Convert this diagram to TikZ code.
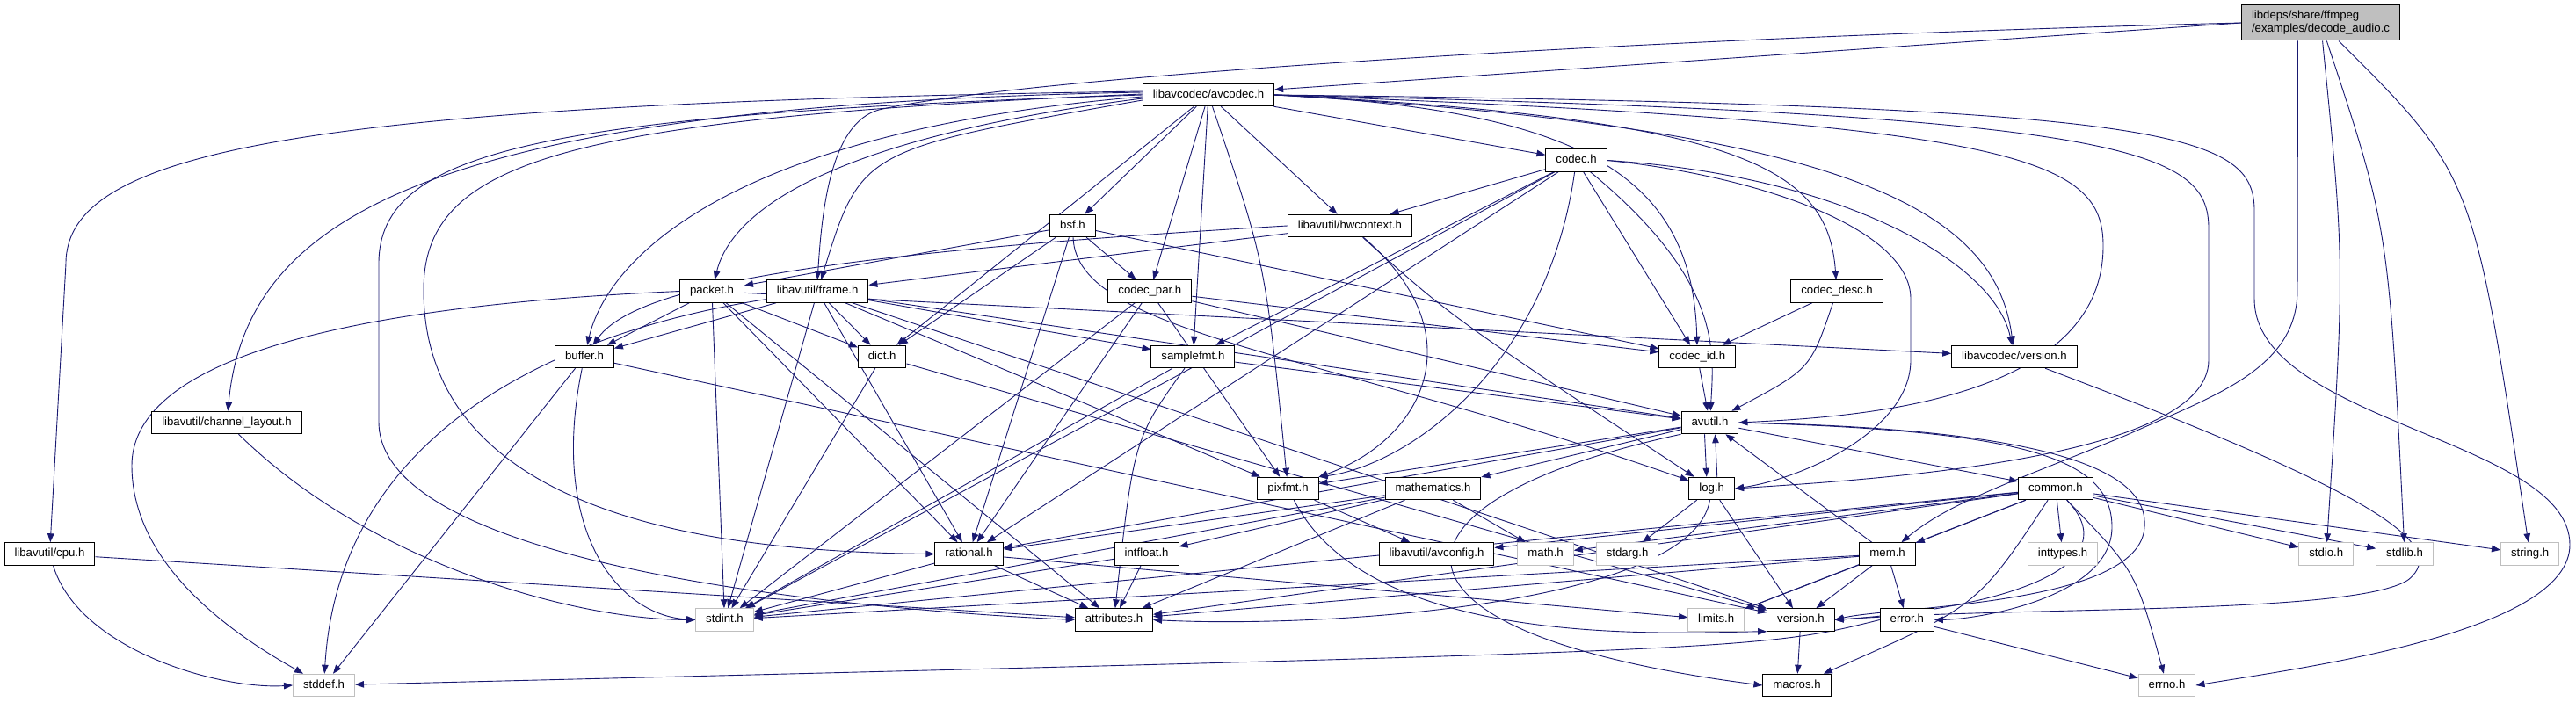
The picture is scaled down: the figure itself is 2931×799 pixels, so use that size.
\documentclass[tikz,border=0pt]{standalone}
\usepackage{fontspec}
\setmainfont{Liberation Sans}
\usetikzlibrary{arrows.meta,positioning,backgrounds}
\definecolor{linkblue}{HTML}{191970}
\definecolor{sysgrey}{HTML}{BFBFBF}

\begin{document}
\begin{tikzpicture}[
  x=1pt, y=-1pt,
  font=\fontsize{13.2}{15}\selectfont,
  hdr/.style={
    rectangle,
    draw=black,
    fill=white,
    line width=1pt,
    inner xsep=11.5pt,
    inner ysep=2pt,
    minimum height=25.5pt,
    text height=9.5pt,
    text depth=2.7pt
  },
  sys/.style={hdr, draw=sysgrey},
  rootfile/.style={
    rectangle,
    draw=black,
    fill=sysgrey,
    line width=1pt,
    inner xsep=11.5pt,
    align=left,
    minimum height=40pt
  },
  inc/.style={
    draw=linkblue,
    line width=0.9pt,
    -{Stealth[length=10pt,width=7.5pt,inset=0pt]}
  }
]
\useasboundingbox (0,0) rectangle (2931,799);

\node[rootfile] (root) at (2640.5,26) {libdeps/share/ffmpeg\\/examples/decode\_audio.c};
\node[hdr] (avcodec) at (1375,108) {libavcodec/avcodec.h};
\node[hdr] (codec) at (1793.5,182.5) {codec.h};
\node[hdr] (bsf) at (1220.5,257) {bsf.h};
\node[hdr, right=218pt of bsf] (hwcontext) {libavutil/hwcontext.h};
\node[hdr] (packet) at (810,331.5) {packet.h};
\node[hdr, right=25pt of packet] (frame) {libavutil/frame.h};
\node[hdr, right=272pt of frame] (codecpar) {codec\_par.h};
\node[hdr, right=681pt of codecpar] (codecdesc) {codec\_desc.h};
\node[hdr] (buffer) at (665,406) {buffer.h};
\node[hdr, right=277pt of buffer] (dict) {dict.h};
\node[hdr, right=278pt of dict] (samplefmt) {samplefmt.h};
\node[hdr, right=482pt of samplefmt] (codecid) {codec\_id.h};
\node[hdr, right=245pt of codecid] (lavcversion) {libavcodec/version.h};
\node[hdr] (chlayout) at (258,481) {libavutil/channel\_layout.h};
\node[hdr] (avutil) at (1945.5,481) {avutil.h};
\node[hdr] (pixfmt) at (1465.5,556) {pixfmt.h};
\node[hdr, right=75pt of pixfmt] (mathematics) {mathematics.h};
\node[hdr, right=236pt of mathematics] (log) {log.h};
\node[hdr, right=322pt of log] (common) {common.h};
\node[hdr] (cpu) at (56.5,630.5) {libavutil/cpu.h};
\node[hdr] (rational) at (1102.5,630.5) {rational.h};
\node[hdr, right=126pt of rational] (intfloat) {intfloat.h};
\node[hdr, right=227pt of intfloat] (avconfig) {libavutil/avconfig.h};
\node[sys, right=26pt of avconfig] (math) {math.h};
\node[sys, right=25pt of math] (stdarg) {stdarg.h};
\node[hdr, right=228pt of stdarg] (mem) {mem.h};
\node[sys, right=127pt of mem] (inttypes) {inttypes.h};
\node[sys, right=228pt of inttypes] (stdio) {stdio.h};
\node[sys, right=25pt of stdio] (stdlib) {stdlib.h};
\node[sys, right=76pt of stdlib] (string) {string.h};
\node[sys] (stdint) at (824.5,705.5) {stdint.h};
\node[hdr, right=365pt of stdint] (attributes) {attributes.h};
\node[sys, right=608pt of attributes] (limits) {limits.h};
\node[hdr, right=25pt of limits] (version) {version.h};
\node[hdr, right=51pt of version] (error) {error.h};
\node[sys] (stddef) at (368.5,780) {stddef.h};
\node[hdr] (macros) at (2044.5,780) {macros.h};
\node[sys, right=349pt of macros] (errno) {errno.h};

\begin{scope}[on background layer]
% decode_audio.c
\draw[inc] (root.west) -- ([yshift=6pt]avcodec.east);
\draw[inc] (root.west) .. controls (1800,45) and (1150,90) .. (1000,125) .. controls (945,140) and (935,240) .. (frame.north);
\draw[inc] ([xshift=-26pt]root.south) -- (2614,330) .. controls (2614,420) and (2520,450) .. (2420,495) .. controls (2300,545) and (2220,570) .. (mem);
\draw[inc] (root) .. controls (2668,300) .. (stdio);
\draw[inc] (root) .. controls (2718,260) .. (stdlib);
\draw[inc] (root) .. controls (2815,200) .. (string);

% libavcodec/avcodec.h
\draw[inc] ([yshift=4pt]avcodec.west) .. controls (350,118) and (75,170) .. (75,300) -- (cpu);
\draw[inc] ([yshift=3pt]avcodec.west) .. controls (480,120) and (280,250) .. (chlayout);
\draw[inc] ([yshift=1pt]avcodec.west) .. controls (650,135) and (482,180) .. (482,330) .. controls (482,600) and (850,628) .. (rational.west);
\draw[inc] (avcodec.west) .. controls (620,130) and (431,170) .. (431,300) -- (431,480) .. controls (431,650) and (1000,695) .. (attributes.west);
\draw[inc] ([yshift=-2pt]avcodec.west) .. controls (820,150) and (690,300) .. (buffer);
\draw[inc] ([yshift=-4pt]avcodec.west) .. controls (920,160) and (830,250) .. (packet);
\draw[inc] ([yshift=-6pt]avcodec.west) .. controls (980,170) .. (frame);
\draw[inc] (avcodec) -- (dict);
\draw[inc] (avcodec) -- (bsf);
\draw[inc] (avcodec) -- (codecpar);
\draw[inc] (avcodec) -- (samplefmt);
\draw[inc] (avcodec) .. controls (1440,300) .. (pixfmt);
\draw[inc] (avcodec) -- (hwcontext);
\draw[inc] (avcodec) -- (codec);
\draw[inc] (avcodec.east) .. controls (1800,125) and (1926,200) .. (codecid);
\draw[inc] (avcodec.east) .. controls (1980,135) and (2080,190) .. (codecdesc);
\draw[inc] (avcodec.east) .. controls (2080,145) and (2270,230) .. (lavcversion);
\draw[inc] (avcodec.east) .. controls (2300,140) and (2393,180) .. (2393,280) .. controls (2393,460) and (2100,475) .. (avutil.east);
\draw[inc] (avcodec.east) .. controls (2420,130) and (2513,170) .. (2513,260) -- (2513,410) .. controls (2513,520) and (2150,545) .. (log.east);
\draw[inc] (avcodec.east) .. controls (2470,120) and (2565,150) .. (2565,240) -- (2565,340) .. controls (2565,480) and (2924,500) .. (2924,620) .. controls (2924,720) and (2620,760) .. (errno.east);

% bsf.h
\draw[inc] (bsf) -- (packet);
\draw[inc] (bsf) -- (codecpar);
\draw[inc] (bsf) -- (dict);
\draw[inc] (bsf) -- (rational);
\draw[inc] (bsf) -- (codecid);
\draw[inc] (bsf) .. controls (1225,380) and (1500,400) .. (log);

% libavutil/hwcontext.h
\draw[inc] (hwcontext) -- (frame);
\draw[inc] (hwcontext.west) .. controls (900,290) and (720,330) .. (buffer);
\draw[inc] (hwcontext) .. controls (1650,360) .. (log);
\draw[inc] (hwcontext) .. controls (1680,380) and (1620,500) .. (pixfmt.north east);

% codec.h
\draw[inc] (codec) -- (hwcontext);
\draw[inc] (codec) .. controls (1960,320) and (1950,400) .. (avutil);
\draw[inc] (codec.east) .. controls (2000,200) and (2174,260) .. (2174,340) -- (2174,410) .. controls (2174,490) and (2050,545) .. (log.east);
\draw[inc] (codec.east) .. controls (2100,200) and (2270,300) .. (lavcversion);
\draw[inc] (codec) .. controls (1760,420) and (1600,530) .. (pixfmt.north east);
\draw[inc] (codec) -- (rational);
\draw[inc] (codec) -- (samplefmt);
\draw[inc] (codec) -- (codecid);
\draw[inc] (codec) -- (stdint);

% codec_desc.h, codec_id.h
\draw[inc] (codecdesc) -- (codecid);
\draw[inc] (codecdesc) .. controls (2060,420) .. (avutil);
\draw[inc] (codecid) -- (avutil);

% codec_par.h
\draw[inc] (codecpar) -- (stdint);
\draw[inc] (codecpar) -- (rational);
\draw[inc] (codecpar) -- (pixfmt);
\draw[inc] (codecpar) -- (codecid);
\draw[inc] (codecpar) -- (avutil);

% packet.h
\draw[inc] (packet.west) .. controls (350,350) and (150,420) .. (150,530) .. controls (150,650) and (280,730) .. (stddef);
\draw[inc] (packet) -- (stdint);
\draw[inc] (packet) -- (attributes);
\draw[inc] (packet) -- (buffer);
\draw[inc] (packet) -- (dict);
\draw[inc] (packet) -- (rational);
\draw[inc] (packet) -- (lavcversion);

% libavcodec/version.h
\draw[inc] (lavcversion) .. controls (2700,560) and (2790,620) .. (2740,660) .. controls (2680,700) and (2300,690) .. (version.east);

% libavutil/frame.h
\draw[inc] (frame) .. controls (620,380) and (385,500) .. (stddef);
\draw[inc] (frame) -- (stdint);
\draw[inc] (frame) -- (avutil);
\draw[inc] (frame) -- (buffer);
\draw[inc] (frame) -- (dict);
\draw[inc] (frame) -- (rational);
\draw[inc] (frame) -- (samplefmt);
\draw[inc] (frame) -- (pixfmt);
\draw[inc] (frame) -- (version);

% buffer.h, dict.h
\draw[inc] (buffer) -- (stddef);
\draw[inc] (buffer) .. controls (625,600) and (700,700) .. (stdint.west);
\draw[inc] (buffer) -- (version);
\draw[inc] (dict) -- (stdint);
\draw[inc] (dict) -- (version);

% samplefmt.h
\draw[inc] (samplefmt) -- (avutil);
\draw[inc] (samplefmt) .. controls (1290,500) .. (attributes);
\draw[inc] (samplefmt) -- (stdint);

% avutil.h
\draw[inc] (avutil) -- (common);
\draw[inc] (avutil.east) .. controls (2300,490) and (2403,520) .. (2403,600) .. controls (2403,680) and (2250,705) .. (error.east);
\draw[inc] (avutil.east) .. controls (2350,488) and (2445,540) .. (2440,600) .. controls (2435,690) and (2150,690) .. (version.east);
\draw[inc] (avutil) -- (rational);
\draw[inc] (avutil.south west) .. controls (1560,570) and (1540,720) .. (macros.west);
\draw[inc] (avutil) -- (mathematics);
\draw[inc] ([xshift=-6pt]avutil.south) -- ([xshift=-6pt]log.north);
\draw[inc] (avutil) -- (pixfmt);

% mathematics.h
\draw[inc] (mathematics) -- (stdint);
\draw[inc] (mathematics) -- (math);
\draw[inc] (mathematics) -- (attributes);
\draw[inc] (mathematics) -- (rational);
\draw[inc] (mathematics) -- (intfloat);

% pixfmt.h
\draw[inc] (pixfmt) -- (avconfig);
\draw[inc] (pixfmt) .. controls (1560,740) and (1900,720) .. (version.south west);

% log.h
\draw[inc] (log) -- (stdarg);
\draw[inc] ([xshift=6pt]log.north) -- ([xshift=6pt]avutil.south);
\draw[inc] (log) .. controls (1925,690) and (1500,715) .. (attributes.east);
\draw[inc] (log) -- (version);

% rational.h, intfloat.h
\draw[inc] (rational) -- (stdint);
\draw[inc] (rational) -- (limits);
\draw[inc] (rational) -- (attributes);
\draw[inc] (intfloat) -- (stdint);
\draw[inc] (intfloat) -- (attributes);

% common.h
\draw[inc] (common) -- (mem);
\draw[inc] (common) -- (inttypes);
\draw[inc] (common) -- (stdio);
\draw[inc] (common) -- (stdlib);
\draw[inc] (common) -- (string);
\draw[inc] (common) .. controls (2430,650) .. (errno);
\draw[inc] (common) .. controls (2250,690) .. (macros);
\draw[inc] (common) .. controls (2420,640) and (2300,690) .. (version.east);
\draw[inc] (common) -- (limits);
\draw[inc] (common) -- (stdint);
\draw[inc] (common) -- (attributes);
\draw[inc] (common) -- (avconfig);
\draw[inc] (common) -- (math);

% mem.h
\draw[inc] (mem) -- (avutil);
\draw[inc] (mem) -- (error);
\draw[inc] (mem) -- (version);
\draw[inc] (mem) -- (limits);
\draw[inc] (mem) -- (stdint);
\draw[inc] (mem) -- (attributes);

% version.h, error.h
\draw[inc] (version) -- (macros);
\draw[inc] (error) -- (errno);
\draw[inc] (error.west) .. controls (2000,740) .. (stddef);

% libavutil/cpu.h, libavutil/channel_layout.h
\draw[inc] (cpu) -- (attributes);
\draw[inc] (cpu) .. controls (90,740) and (250,785) .. (stddef.west);
\draw[inc] (chlayout) .. controls (420,640) and (650,705) .. (stdint.west);
\end{scope}

\end{tikzpicture}
\end{document}
